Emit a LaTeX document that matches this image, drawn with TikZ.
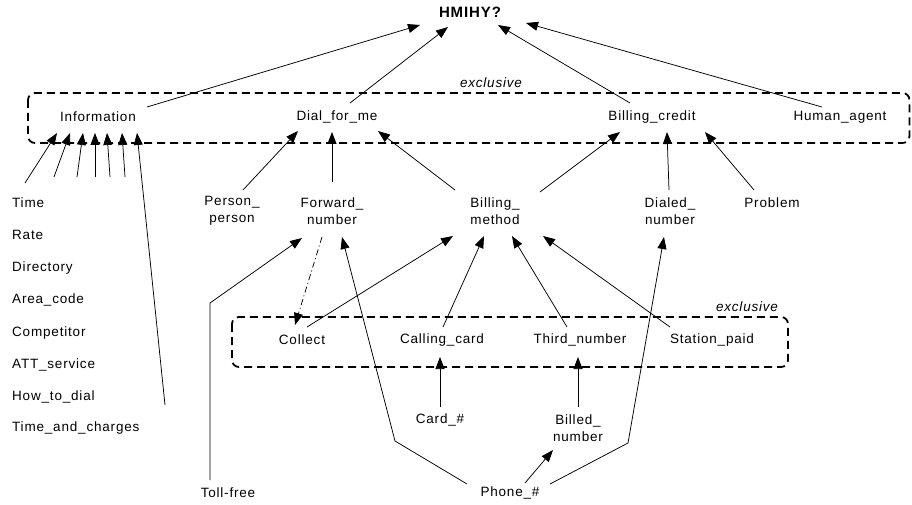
\documentclass[tikz,border=0pt]{standalone}
\usepackage{fontspec}
\setmainfont{Liberation Sans}[LetterSpace=6]
\usetikzlibrary{arrows.meta,calc}
\begin{document}
\begin{tikzpicture}[x=1pt,y=-1pt,
  font=\fontsize{13.5}{16.5}\selectfont,
  lbl/.style={inner sep=0pt, align=center},
  lft/.style={inner sep=0pt, anchor=west},
  arr/.style={-{Triangle[length=12pt,width=9pt]}, line width=0.75pt},
  dashdot/.style={arr, dash pattern=on 6pt off 3pt on 1pt off 3pt},
  group/.style={draw, dash pattern=on 8pt off 5pt, line width=1.8pt, rounded corners=7pt},
  excl/.style={inner sep=0pt, font=\fontsize{13.5}{16.5}\selectfont\itshape}]
\useasboundingbox (0,0) rectangle (912,505);

% groups
\draw[group] (28,93) rectangle (909.5,143);
\draw[group] (232,317) rectangle (788,367);
\node[excl] (ex1) at (491,83) {exclusive};
\node[excl] (ex2) at (747,307) {exclusive};

% nodes
\node[lbl, font=\fontsize{15}{18}\selectfont\bfseries] (hmihy) at (470,12) {HMIHY?};
\node[lbl] (info) at (98,117) {Information};
\node[lbl] (dial) at (337,117) {Dial\_for\_me};
\node[lbl] (bcredit) at (652,117) {Billing\_credit};
\node[lbl] (human) at (840,117) {Human\_agent};

\node[lft] (time) at (12,203) {Time};
\node[lft] (rate) at (12,235) {Rate};
\node[lft] (directory) at (12,268) {Directory};
\node[lft] (areacode) at (12,300) {Area\_code};
\node[lft] (competitor) at (12,333) {Competitor};
\node[lft] (att) at (12,365) {ATT\_service};
\node[lft] (howto) at (12,397) {How\_to\_dial};
\node[lft] (tac) at (12,428) {Time\_and\_charges};

\node[lbl] (person) at (232,211) {Person\_\\person};
\node[lbl] (forward) at (332,211) {Forward\_\\number};
\node[lbl] (bmethod) at (495,211) {Billing\_\\method};
\node[lbl] (dialed) at (670,211) {Dialed\_\\number};
\node[lbl] (problem) at (772,203) {Problem};

\node[lbl] (collect) at (302,340) {Collect};
\node[lbl] (ccard) at (442,340) {Calling\_card};
\node[lbl] (third) at (580,340) {Third\_number};
\node[lbl] (station) at (712,340) {Station\_paid};

\node[lbl] (card) at (440,420) {Card\_\#};
\node[lbl] (billed) at (578,428) {Billed\_\\number};
\node[lbl] (phone) at (510,493) {Phone\_\#};
\node[lbl] (toll) at (228,493) {Toll-free};

% free ends of stubs into Information
\coordinate (s1) at (25,183);
\coordinate (s2) at (54,177);
\coordinate (s3) at (77,177);
\coordinate (s4) at (95,177);
\coordinate (s5) at (110,177);
\coordinate (s6) at (125,177);
\coordinate (s7) at (165,405);

% to HMIHY?
\draw[arr] ($(info)+(49,-10)$) -- ($(hmihy)+(-50,13)$);
\draw[arr] ($(dial)+(13,-14)$) -- ($(hmihy)+(-22,15)$);
\draw[arr] ($(bcredit)+(-22,-14)$) -- ($(hmihy)+(28,13)$);
\draw[arr] ($(human)+(-18,-10)$) -- ($(hmihy)+(56,11)$);

% to Information
\draw[arr] (s1) -- ($(info)+(-41,16)$);
\draw[arr] (s2) -- ($(info)+(-28,16)$);
\draw[arr] (s3) -- ($(info)+(-15,16)$);
\draw[arr] (s4) -- ($(info)+(-3,16)$);
\draw[arr] (s5) -- ($(info)+(9,16)$);
\draw[arr] (s6) -- ($(info)+(24,16)$);
\draw[arr] (s7) -- ($(info)+(39,16)$);

% to Dial_for_me
\draw[arr] ($(person)+(11,-21)$) -- ($(dial)+(-39,14)$);
\draw[arr] ($(forward)+(0,-29)$) -- ($(dial)+(-5,15)$);
\draw[arr] ($(bmethod)+(-40,-21)$) -- ($(dial)+(41,14)$);

% to Billing_credit
\draw[arr] ($(bmethod)+(45,-19)$) -- ($(bcredit)+(-32,15)$);
\draw[arr] ($(dialed)+(-1,-21)$) -- ($(bcredit)+(15,15)$);
\draw[arr] ($(problem)+(-18,-13)$) -- ($(bcredit)+(53,15)$);

% lower part
\draw[arr] ($(toll)+(-18,-13)$) -- ++(0,-177) -- ($(forward)+(-30,27)$);
\draw[dashdot] ($(forward)+(-10,26)$) -- ($(collect)+(-7,-15)$);
\draw[arr] ($(collect)+(5,-13)$) -- ($(bmethod)+(-42,25)$);
\draw[arr] ($(ccard)+(1,-13)$) -- ($(bmethod)+(-11,25)$);
\draw[arr] ($(third)+(-13,-13)$) -- ($(bmethod)+(17,25)$);
\draw[arr] ($(station)+(-42,-13)$) -- ($(bmethod)+(48,25)$);
\draw[arr] ($(card)+(0,-13)$) -- ($(ccard)+(-2,17)$);
\draw[arr] ($(billed)+(0,-21)$) -- ($(third)+(-2,17)$);
\draw[arr] ($(phone)+(15,-10)$) -- ($(billed)+(-25,22)$);
\draw[arr] ($(phone)+(40,-9)$) -- (628,443) -- ($(dialed)+(-6,26)$);
\draw[arr] ($(phone)+(-43,-9)$) -- (395,441) -- ($(forward)+(10,26)$);
\end{tikzpicture}
\end{document}
